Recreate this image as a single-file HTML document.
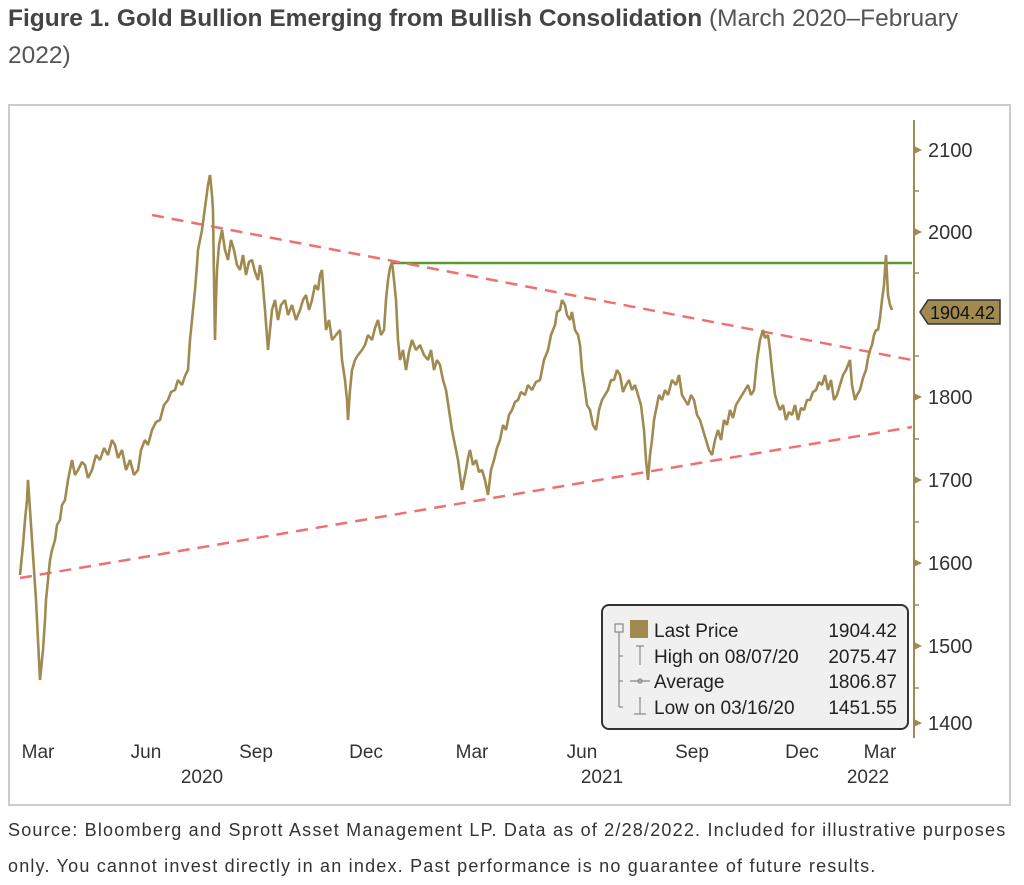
<!DOCTYPE html>
<html><head><meta charset="utf-8"><style>
body{margin:0;width:1024px;height:885px;background:#fff;font-family:"Liberation Sans",sans-serif;overflow:hidden;position:relative}
.t{position:absolute;left:8px;top:0px;width:975px;font-size:24.5px;line-height:37px;color:#555}
.t b{color:#444}
.c{position:absolute;left:8px;top:812px;font-size:18px;letter-spacing:1.2px;line-height:36px;color:#333;white-space:nowrap}
</style></head><body>
<div class="t"><b>Figure 1. Gold Bullion Emerging from Bullish Consolidation</b> (March 2020–February 2022)</div>
<svg width="1024" height="885" style="position:absolute;left:0;top:0" font-family="Liberation Sans, sans-serif">
<rect x="9" y="105" width="1001" height="700" fill="#fff" stroke="#ccc" stroke-width="2"/>
<line x1="914" y1="120" x2="914" y2="738" stroke="#a08a50" stroke-width="2"/>
<g fill="#a08a50">
<polygon points="914,146 922,150 914,154"/><polygon points="914,228 922,232 914,236"/>
<polygon points="914,393 922,397 914,401"/><polygon points="914,476 922,480 914,484"/>
<polygon points="914,559 922,563 914,567"/><polygon points="914,642 922,646 914,650"/>
<polygon points="914,719 922,723 914,727"/>
</g>
<g stroke="#a08a50" stroke-width="1.5"><line x1="914" y1="191" x2="919" y2="191"/><line x1="914" y1="273" x2="919" y2="273"/><line x1="914" y1="356" x2="919" y2="356"/><line x1="914" y1="439" x2="919" y2="439"/><line x1="914" y1="522" x2="919" y2="522"/><line x1="914" y1="605" x2="919" y2="605"/><line x1="914" y1="688" x2="919" y2="688"/></g>
<g font-size="20" fill="#333">
<text x="928" y="157">2100</text><text x="928" y="239">2000</text><text x="928" y="404">1800</text>
<text x="928" y="487">1700</text><text x="928" y="570">1600</text><text x="928" y="653">1500</text><text x="928" y="730">1400</text>
</g>
<polygon points="920,312 928,300 1000,300 1000,324 928,324" fill="#a08a50" stroke="#333" stroke-width="1.5"/>
<text x="930" y="319" font-size="18" fill="#111">1904.42</text>
<line x1="392" y1="263" x2="912" y2="263" stroke="#5a9a2a" stroke-width="2.5"/>
<line x1="152" y1="215" x2="912" y2="360" stroke="#f07070" stroke-width="2.5" stroke-dasharray="12,8"/>
<line x1="20" y1="578" x2="912" y2="427" stroke="#f07070" stroke-width="2.5" stroke-dasharray="12,8"/>
<polyline fill="none" stroke="#a08a50" stroke-width="2.6" stroke-linejoin="bevel" points="20,575 23,545 25,520 27,500 28,480 30,510 32,540 34,570 36,600 38,640 40,680 42,660 43,650 45,620 46,600 48,580 50,560 52,550 55,540 57,525 60,520 62,505 65,500 68,480 72,460 75,475 78,470 82,462 85,465 88,478 92,470 96,455 100,460 104,448 108,455 112,440 115,445 118,458 122,450 126,470 130,460 134,475 138,470 141,450 145,440 148,445 152,430 156,422 160,420 164,405 168,400 171,392 175,390 178,380 182,385 185,376 188,370 190,340 192,320 194,300 195,290 197,265 198,250 200,240 202,230 204,215 206,200 208,185 210,175 212,195 213,210 214,280 215,340 216,300 217,270 219,245 222,230 225,250 228,260 231,240 234,250 237,265 240,270 243,255 246,275 249,262 252,260 255,272 258,280 260,265 262,275 265,310 268,350 270,330 272,310 275,300 278,320 281,305 285,300 288,315 292,305 296,320 300,310 303,300 306,295 309,310 312,300 315,285 318,290 320,275 322,270 324,300 326,330 329,320 332,340 336,335 340,330 342,360 345,380 347,400 348,420 350,390 352,370 355,360 358,355 362,350 365,345 368,335 372,340 375,328 378,320 381,335 384,330 386,300 388,280 390,268 392,262 394,280 396,300 398,340 400,360 403,350 406,370 409,352 412,340 416,350 420,345 424,355 428,360 431,350 434,370 437,360 440,365 443,380 446,390 449,410 452,430 455,445 458,460 460,475 462,490 464,480 466,470 468,458 470,450 473,465 476,460 479,472 482,470 485,480 488,495 491,470 494,460 497,448 500,440 503,425 506,430 509,415 512,410 515,402 518,400 521,392 525,395 528,385 532,390 536,382 540,380 544,360 548,350 551,335 555,325 557,312 560,310 562,300 565,305 567,315 570,320 572,312 575,330 578,335 580,345 582,370 585,390 587,405 590,410 593,425 596,430 599,410 602,400 605,395 608,390 611,380 614,380 617,370 620,375 623,392 626,385 629,380 632,390 635,385 638,395 641,405 644,430 646,460 648,480 650,455 652,440 654,420 656,410 659,395 662,400 665,390 668,395 672,380 676,385 679,375 682,395 685,400 688,405 691,395 694,400 697,415 700,420 703,430 706,440 709,450 712,455 715,440 718,430 721,440 724,420 727,425 730,410 733,418 736,405 739,400 742,395 745,390 748,385 751,395 754,390 757,360 760,340 763,330 765,338 768,335 770,350 772,370 775,395 778,405 780,410 783,405 786,420 789,412 792,415 795,405 798,420 801,408 804,410 807,400 810,400 813,392 816,390 819,382 822,385 825,375 828,390 831,380 834,400 837,395 840,385 843,375 846,370 848,365 850,360 852,385 855,400 857,395 860,390 863,378 866,370 868,358 870,350 872,345 874,335 876,330 878,330 880,318 882,300 884,285 886,255 887,275 888,295 890,305 892,310"/>
<rect x="602" y="605" width="306" height="124" rx="7" fill="#f0f0f0" stroke="#333" stroke-width="2"/>
<g stroke="#888" stroke-width="1.2" fill="none">
<rect x="615" y="624" width="8" height="8"/><line x1="619" y1="632" x2="619" y2="707"/>
<line x1="619" y1="656" x2="623" y2="656"/><line x1="619" y1="681" x2="623" y2="681"/><line x1="619" y1="707" x2="623" y2="707"/>
<line x1="636" y1="646" x2="644" y2="646"/><line x1="640" y1="646" x2="640" y2="665"/>
<line x1="630" y1="681" x2="650" y2="681"/><circle cx="640" cy="681" r="2"/>
<line x1="640" y1="697" x2="640" y2="714"/><line x1="634" y1="714" x2="646" y2="714"/>
</g>
<rect x="630" y="620" width="18" height="18" fill="#a08a50"/>
<g font-size="19" fill="#222">
<text x="654" y="637">Last Price</text><text x="654" y="663">High on 08/07/20</text>
<text x="654" y="688">Average</text><text x="654" y="714">Low on 03/16/20</text>
<g text-anchor="end"><text x="897" y="637">1904.42</text><text x="897" y="663">2075.47</text><text x="897" y="688">1806.87</text><text x="897" y="714">1451.55</text></g>
</g>
<g font-size="19" fill="#333" text-anchor="middle">
<text x="38" y="758">Mar</text><text x="146" y="758">Jun</text><text x="256" y="758">Sep</text><text x="366" y="758">Dec</text>
<text x="472" y="758">Mar</text><text x="582" y="758">Jun</text><text x="692" y="758">Sep</text><text x="802" y="758">Dec</text><text x="880" y="758">Mar</text>
<text x="202" y="783">2020</text><text x="602" y="783">2021</text><text x="868" y="783">2022</text>
</g>
</svg>
<div class="c">Source: Bloomberg and Sprott Asset Management LP. Data as of 2/28/2022. Included for illustrative purposes<br>only. You cannot invest directly in an index. Past performance is no guarantee of future results.</div>
</body></html>
